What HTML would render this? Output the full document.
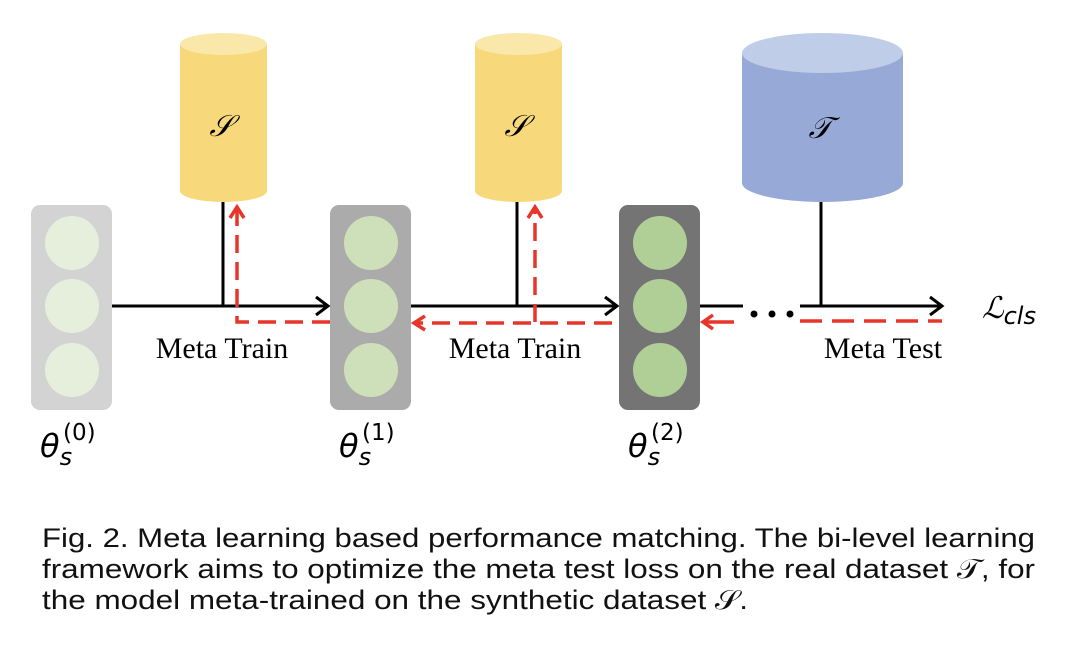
<!DOCTYPE html>
<html><head><meta charset="utf-8"><style>
html,body{margin:0;padding:0;background:#fff;}
svg{display:block;}
</style></head><body>
<svg width="1072" height="654" viewBox="0 0 1072 654" xmlns="http://www.w3.org/2000/svg">
<g>
<path d="M180 44 V191 A43.5 11 0 0 0 267 191 V44 Z" fill="#f7d97c"/>
<ellipse cx="223.5" cy="44" rx="43.5" ry="11" fill="#fae8aa"/>
<text x="221" y="136" font-family="Liberation Serif, serif" font-style="italic" font-size="30" text-anchor="middle">𝒮</text>
<path d="M475 44 V191 A43.5 11 0 0 0 562 191 V44 Z" fill="#f7d97c"/>
<ellipse cx="518.5" cy="44" rx="43.5" ry="11" fill="#fae8aa"/>
<text x="516" y="136" font-family="Liberation Serif, serif" font-style="italic" font-size="30" text-anchor="middle">𝒮</text>
<path d="M742 53 V183 A80.5 19 0 0 0 903 183 V53 Z" fill="#97aad7"/>
<ellipse cx="822.5" cy="53" rx="80.5" ry="20" fill="#bfcde8"/>
<text x="820" y="138" font-family="Liberation Serif, serif" font-style="italic" font-size="30" text-anchor="middle">𝒯</text>
</g>
<rect x="31" y="205" width="81" height="205" rx="9" fill="#d3d3d3"/>
<circle cx="72" cy="243" r="27" fill="#e6efdc"/><circle cx="72" cy="306" r="27" fill="#e6efdc"/><circle cx="72" cy="370" r="27" fill="#e6efdc"/>
<rect x="330" y="205" width="81" height="205" rx="9" fill="#ababab"/>
<circle cx="371" cy="243" r="27" fill="#cde0b9"/><circle cx="371" cy="306" r="27" fill="#cde0b9"/><circle cx="371" cy="370" r="27" fill="#cde0b9"/>
<rect x="619" y="205" width="81" height="205" rx="9" fill="#747474"/>
<circle cx="660" cy="243" r="27" fill="#b0cf96"/><circle cx="660" cy="306" r="27" fill="#b0cf96"/><circle cx="660" cy="370" r="27" fill="#b0cf96"/>
<g stroke="#000" stroke-width="3" fill="none">
<line x1="223" y1="202" x2="223" y2="307"/>
<line x1="112" y1="306" x2="328" y2="306"/>
<polyline points="316,297 328,306 316,315"/>
<line x1="517" y1="202" x2="517" y2="307"/>
<line x1="411" y1="306" x2="617" y2="306"/>
<polyline points="605,297 617,306 605,315"/>
<line x1="821" y1="202" x2="821" y2="307"/>
<line x1="700" y1="306" x2="743" y2="306"/>
<line x1="800" y1="306" x2="942" y2="306"/>
<polyline points="930,297 942,306 930,315"/>
</g>
<circle cx="754" cy="314" r="3.5"/><circle cx="772" cy="314" r="3.5"/><circle cx="790" cy="314" r="3.5"/>
<g stroke="#e8352a" stroke-width="3.5" fill="none">
<polyline points="330,322 237,322 237,207" stroke-dasharray="18,9"/>
<polyline points="230,218 237,207 244,218"/>
<line x1="612" y1="323" x2="414" y2="323" stroke-dasharray="18,9"/>
<polyline points="425,316 414,323 425,330"/>
<line x1="535" y1="322" x2="535" y2="207" stroke-dasharray="18,9"/>
<polyline points="528,218 535,207 542,218"/>
<line x1="800" y1="321" x2="942" y2="321" stroke-dasharray="22,10"/>
<line x1="734" y1="322" x2="703" y2="322"/>
<polyline points="713,315 703,322 713,329"/>
</g>
<g font-family="Liberation Serif, serif" font-size="30" text-anchor="middle">
<text x="222" y="358">Meta Train</text>
<text x="515" y="358">Meta Train</text>
<text x="883" y="358">Meta Test</text>
</g>
<g font-family="DejaVu Sans, sans-serif" font-style="italic" font-size="32">
<text x="40" y="457">θ<tspan font-size="24" dy="8">s</tspan></text>
<text x="63" y="440" font-size="23" font-style="normal">(0)</text>
<text x="339" y="457">θ<tspan font-size="24" dy="8">s</tspan></text>
<text x="362" y="440" font-size="23" font-style="normal">(1)</text>
<text x="628" y="457">θ<tspan font-size="24" dy="8">s</tspan></text>
<text x="651" y="440" font-size="23" font-style="normal">(2)</text>
</g>
<text x="982" y="318" font-family="DejaVu Serif, serif" font-style="italic" font-size="30">ℒ<tspan font-size="24" dy="6" font-family="DejaVu Sans, sans-serif">cls</tspan></text>
<g font-family="Liberation Sans, sans-serif" font-size="27" fill="#111">
<text x="42" y="547" textLength="993" lengthAdjust="spacingAndGlyphs">Fig. 2. Meta learning based performance matching. The bi-level learning</text>
<text x="42" y="578" textLength="993" lengthAdjust="spacingAndGlyphs">framework aims to optimize the meta test loss on the real dataset 𝒯, for</text>
<text x="42" y="609" textLength="706" lengthAdjust="spacingAndGlyphs">the model meta-trained on the synthetic dataset 𝒮.</text>
</g>
</svg>
</body></html>
